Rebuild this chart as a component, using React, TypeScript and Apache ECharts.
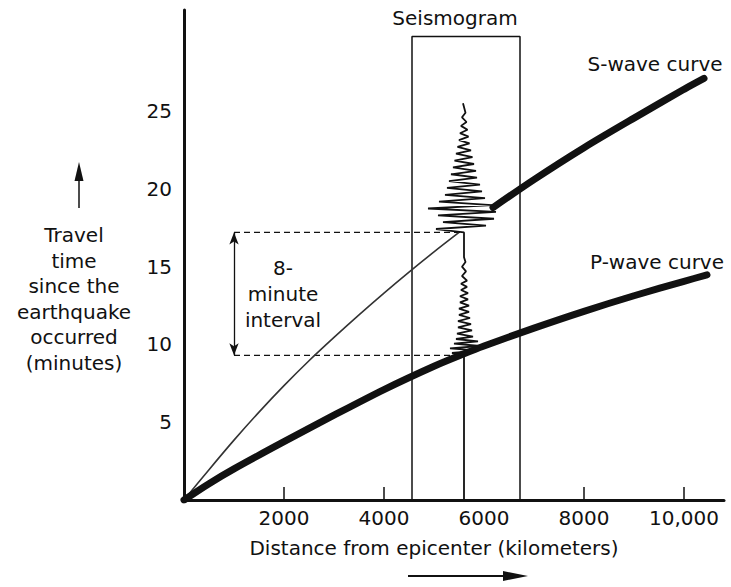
import React, { useEffect, useRef } from "react";
import * as echarts from "echarts";

// Axis ticks / labels
const xTickValues = [2000, 4000, 8000, 10000];
const xLabelValues = [2000, 4000, 6000, 8000, 10000];
const yLabelValues = [5, 10, 15, 20, 25];

// S-wave curve, thin early part (km, minutes)
const sThinDist = [0, 500, 1000, 1500, 2000, 2500, 3000, 3500, 4000, 4500, 5000, 5500];
const sThinTime = [0, 1.95, 3.85, 5.65, 7.35, 8.95, 10.45, 11.9, 13.3, 14.65, 15.95, 17.2];

// S-wave curve, thick later part
const sThickDist = [6180, 7000, 8000, 9000, 10000, 10400];
const sThickTime = [18.8, 20.6, 22.65, 24.55, 26.4, 27.1];

// P-wave curve
const pDist = [0, 500, 1000, 2000, 3000, 4000, 5000, 5600, 6000, 7000, 8000, 9000, 10000, 10460];
const pTime = [0, 1.05, 2.0, 3.75, 5.45, 7.1, 8.6, 9.4, 9.9, 11.05, 12.13, 13.13, 14.06, 14.47];

// Seismogram trace: station distance, time samples and horizontal swing (km)
const stationDist = 5600;
const traceTime = [0, 9.3, 9.45, 9.6, 9.75, 9.9, 10.05, 10.2, 10.35, 10.5, 10.7, 10.9, 11.1, 11.3, 11.5, 11.7, 11.9, 12.1, 12.3, 12.5, 12.7, 12.9, 13.1, 13.3, 13.5, 13.7, 13.9, 14.1, 14.4, 14.7, 15.0, 15.3, 15.6,
  17.2, 17.42, 17.64, 17.86, 18.08, 18.3, 18.52, 18.74, 18.96, 19.18, 19.4, 19.62, 19.84, 20.06, 20.28, 20.5, 20.72, 20.94, 21.16, 21.38, 21.6, 21.82, 22.04, 22.26, 22.48, 22.7, 22.92, 23.14, 23.36, 23.58, 23.8, 24.05, 24.3, 24.6, 24.9, 25.5];
const traceSwing = [0, 0, -240, 280, -280, 320, -200, 280, -160, 180, -140, 160, -120, 140, -120, 120, -100, 100, -100, 100, -80, 80, -80, 80, -60, 60, -60, 60, -40, 40, -40, 30, 0,
  0, -560, 440, -420, 600, -520, 640, -720, 560, -500, 420, -380, 360, -340, 320, -300, 260, -260, 240, -220, 200, -190, 170, -160, 140, -130, 110, -100, 90, -80, 70, -60, 50, -40, 30, -20, 0];

// Seismogram box and interval
const boxLeft = 4560;
const boxRight = 6720;
const boxTop = 29.8;
const pArrival = 9.3;
const sArrival = 17.2;
const intervalStart = 1000;

const FONT = '"DejaVu Sans", Arial, sans-serif';
const INK = "#111";

export default function App() {
  const ref = useRef<HTMLDivElement>(null);

  useEffect(() => {
    if (!ref.current) return;
    const chart = echarts.init(ref.current, undefined, { renderer: "svg" });

    const zip = (a: number[], b: number[]) => a.map((v, i) => [v, b[i]]);
    const trace = traceTime.map((t, i) => [stationDist + traceSwing[i], t]);

    const txt = (text: string, x: number, y: number, extra: any = {}) => ({
      type: "text",
      x,
      y,
      silent: true,
      style: {
        text,
        fontSize: 20,
        fontFamily: FONT,
        fill: INK,
        align: "center",
        verticalAlign: "middle",
        ...extra,
      },
    });

    chart.setOption({
      animation: false,
      backgroundColor: "#fff",
      grid: { left: 184, right: 7, top: 10, bottom: 87 },
      xAxis: {
        type: "value",
        min: 0,
        max: 10800,
        interval: 2000,
        axisLine: { show: true, lineStyle: { color: INK, width: 3 } },
        axisTick: { show: false },
        splitLine: { show: false },
        axisLabel: {
          margin: 8,
          fontSize: 20,
          fontFamily: FONT,
          color: INK,
          formatter: (v: number) =>
            xLabelValues.includes(v) ? (v === 10000 ? "10,000" : String(v)) : "",
        },
      },
      yAxis: {
        type: "value",
        min: 0,
        max: 31.5,
        interval: 5,
        axisLine: { show: true, lineStyle: { color: INK, width: 3 } },
        axisTick: { show: false },
        splitLine: { show: false },
        axisLabel: {
          margin: 12,
          fontSize: 20,
          fontFamily: FONT,
          color: INK,
          formatter: (v: number) => (yLabelValues.includes(v) ? String(v) : ""),
        },
      },
      series: [
        {
          type: "line",
          data: [
            [boxLeft, 0],
            [boxLeft, boxTop],
            [boxRight, boxTop],
            [boxRight, 0],
          ],
          showSymbol: false,
          lineStyle: { color: INK, width: 1.5 },
          silent: true,
          z: 2,
        },
        {
          type: "line",
          data: [
            [intervalStart, sArrival],
            [stationDist, sArrival],
          ],
          showSymbol: false,
          lineStyle: { color: INK, width: 1.3, type: [6, 4] },
          silent: true,
          markLine: {
            silent: true,
            symbol: ["arrow", "arrow"],
            symbolSize: [7, 12],
            label: { show: false },
            lineStyle: { color: INK, width: 1.3, type: "solid" },
            data: [[{ coord: [intervalStart, pArrival] }, { coord: [intervalStart, sArrival] }]],
          },
        },
        {
          type: "line",
          data: [
            [intervalStart, pArrival],
            [stationDist, pArrival],
          ],
          showSymbol: false,
          lineStyle: { color: INK, width: 1.3, type: [6, 4] },
          silent: true,
        },
        {
          type: "line",
          data: zip(sThinDist, sThinTime),
          showSymbol: false,
          smooth: 0.3,
          lineStyle: { color: "#333", width: 1.6 },
          silent: true,
        },
        {
          type: "line",
          data: zip(sThickDist, sThickTime),
          showSymbol: false,
          smooth: 0.3,
          lineStyle: { color: INK, width: 7, cap: "round" },
          silent: true,
        },
        {
          type: "line",
          data: zip(pDist, pTime),
          showSymbol: false,
          smooth: 0.3,
          lineStyle: { color: INK, width: 7, cap: "round" },
          silent: true,
        },
        {
          type: "line",
          data: trace,
          showSymbol: false,
          lineStyle: { color: INK, width: 1.8 },
          silent: true,
          z: 4,
        },
        {
          type: "custom",
          coordinateSystem: "cartesian2d",
          data: xTickValues.map((v) => [v, 0]),
          silent: true,
          renderItem: (_p: any, api: any) => {
            const p = api.coord([api.value(0), api.value(1)]);
            return {
              type: "line",
              shape: { x1: p[0], y1: p[1], x2: p[0], y2: p[1] - 13 },
              style: { stroke: INK, lineWidth: 1.5 },
            };
          },
        },
      ],
      graphic: [
        txt("Seismogram", 455, 18),
        txt("S-wave curve", 655, 64),
        txt("P-wave curve", 657, 262),
        txt("Travel\ntime\nsince the\nearthquake\noccurred\n(minutes)", 74, 299, { lineHeight: 25.5 }),
        txt("8-\nminute\ninterval", 283, 294, { lineHeight: 26 }),
        txt("Distance from epicenter (kilometers)", 434, 548),
        {
          type: "line",
          silent: true,
          shape: { x1: 79, y1: 208, x2: 79, y2: 178 },
          style: { stroke: INK, lineWidth: 1.5 },
        },
        {
          type: "polygon",
          silent: true,
          shape: { points: [[79, 162], [74.5, 181], [83.5, 181]] },
          style: { fill: INK },
        },
        {
          type: "line",
          silent: true,
          shape: { x1: 408, y1: 576, x2: 505, y2: 576 },
          style: { stroke: INK, lineWidth: 1.8 },
        },
        {
          type: "polygon",
          silent: true,
          shape: { points: [[528, 576], [503, 571], [503, 581]] },
          style: { fill: INK },
        },
      ],
    });

    return () => chart.dispose();
  }, []);

  return (
    <div
      ref={ref}
      style={{ position: "fixed", left: 0, top: 0, width: 731, height: 587, background: "#fff" }}
    />
  );
}
